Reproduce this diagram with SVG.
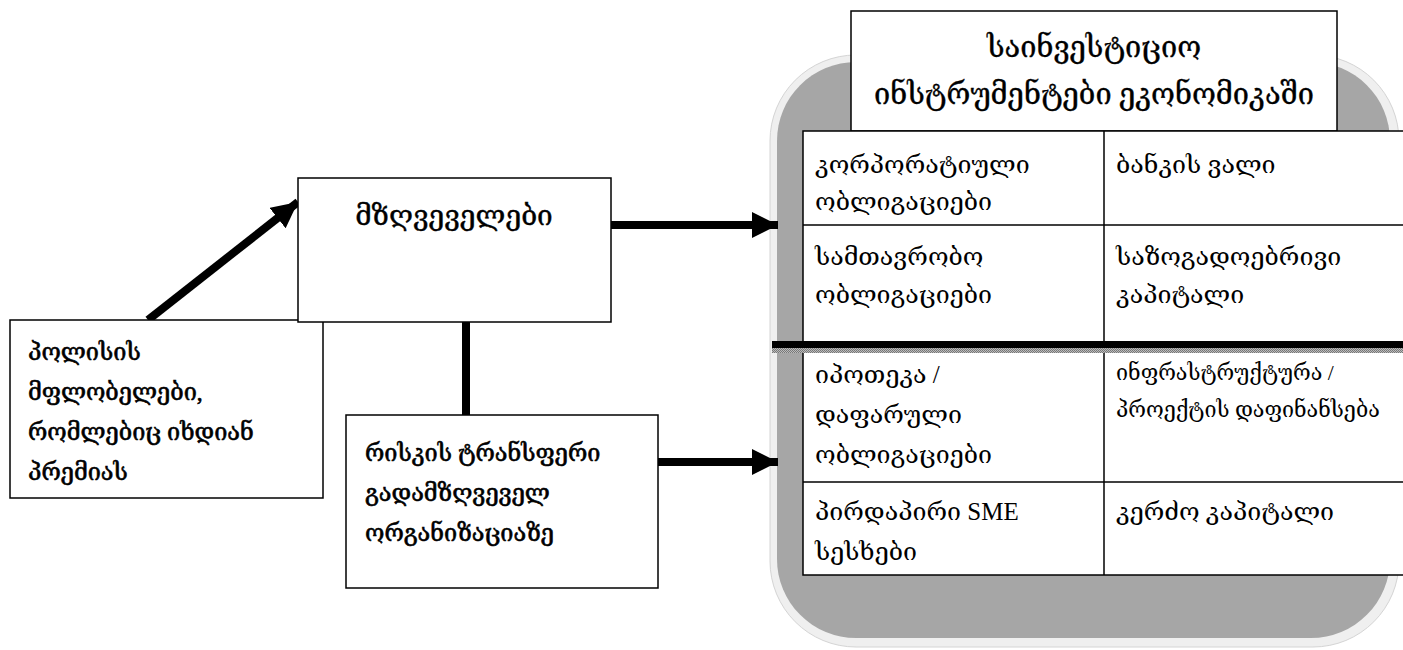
<svg xmlns="http://www.w3.org/2000/svg" width="1403" height="650" viewBox="0 0 1403 650">
<style>
.box{fill:#fff;stroke:#000;stroke-width:1.5}
.t{font-family:"Liberation Serif","DejaVu Serif",serif;font-size:25px;fill:#000}
.s{font-size:21.5px}
.b{stroke:#000;stroke-width:0.6;font-size:23.5px}
.h{stroke:#000;stroke-width:0.35;font-size:29px}
.m{stroke:#000;stroke-width:0.4;font-size:28px}
.conn{stroke:#000;stroke-width:8;fill:none}
</style>
<defs>
<marker id="ah" markerUnits="userSpaceOnUse" markerWidth="26" markerHeight="26" viewBox="0 0 26 26" refX="26" refY="13" orient="auto">
<path d="M0,0 L26,13 L0,26 Z" fill="#000"/>
</marker>
<pattern id="dots" width="2" height="2" patternUnits="userSpaceOnUse">
<rect width="2" height="2" fill="#bbb"/>
<rect width="1" height="1" fill="#777"/>
<rect x="1" y="1" width="1" height="1" fill="#777"/>
</pattern>
</defs>
<rect width="1403" height="650" fill="#fff"/>
<g id="panel">
<rect x="770" y="55" width="629" height="592" rx="86" ry="86" fill="#efefef" stroke="#d4d4d4" stroke-width="1"/>
<rect x="777" y="62" width="613" height="576" rx="79" ry="79" fill="#a6a6a6"/>
</g>
<g id="connectors">
<line class="conn" x1="148" y1="320" x2="298" y2="202" marker-end="url(#ah)"/>
<line class="conn" x1="611" y1="225" x2="778" y2="225" marker-end="url(#ah)"/>
<line class="conn" x1="466" y1="273" x2="466" y2="415"/>
<line class="conn" x1="658" y1="462" x2="778" y2="462" marker-end="url(#ah)"/>
</g>
<g id="node-holders">
<rect class="box" x="10" y="320" width="313" height="178"/>
<text class="t b" x="28" y="360">პოლისის</text>
<text class="t b" x="28" y="400">მფლობელები,</text>
<text class="t b" x="28" y="440">რომლებიც იხდიან</text>
<text class="t b" x="28" y="480">პრემიას</text>
</g>
<g id="node-insurers">
<rect class="box" x="298" y="178" width="313" height="144"/>
<text class="t m" x="454" y="225" text-anchor="middle">მზღვეველები</text>
</g>
<g id="node-risk">
<rect class="box" x="346" y="415" width="312" height="173"/>
<text class="t b" x="365" y="461">რისკის ტრანსფერი</text>
<text class="t b" x="365" y="501">გადამზღვეველ</text>
<text class="t b" x="365" y="541">ორგანიზაციაზე</text>
</g>
<g id="node-title">
<rect class="box" x="851" y="11" width="486" height="120"/>
<text class="t h" x="1094" y="57" text-anchor="middle">საინვესტიციო</text>
<text class="t h" x="1094" y="104" text-anchor="middle">ინსტრუმენტები ეკონომიკაში</text>
</g>
<g id="node-table">
<rect class="box" x="803" y="131" width="620" height="444"/>
<line x1="1104" y1="131" x2="1104" y2="575" stroke="#000" stroke-width="1.5"/>
<line x1="803" y1="225" x2="1403" y2="225" stroke="#000" stroke-width="1.5"/>
<line x1="803" y1="482" x2="1403" y2="482" stroke="#000" stroke-width="1.5"/>
<rect x="772" y="348" width="631" height="5" fill="url(#dots)"/>
<rect x="772" y="341" width="631" height="7" fill="#000"/>
<text class="t" x="815" y="173">კორპორატიული</text>
<text class="t" x="815" y="210">ობლიგაციები</text>
<text class="t" x="1116" y="173">ბანკის ვალი</text>
<text class="t" x="815" y="265">სამთავრობო</text>
<text class="t" x="815" y="303">ობლიგაციები</text>
<text class="t" x="1116" y="265">საზოგადოებრივი</text>
<text class="t" x="1116" y="303">კაპიტალი</text>
<text class="t" x="815" y="383">იპოთეკა /</text>
<text class="t" x="815" y="423">დაფარული</text>
<text class="t" x="815" y="463">ობლიგაციები</text>
<text class="t s" x="1116" y="380">ინფრასტრუქტურა /</text>
<text class="t s" x="1116" y="417">პროექტის დაფინანსება</text>
<text class="t" x="815" y="520">პირდაპირი SME</text>
<text class="t" x="815" y="560">სესხები</text>
<text class="t" x="1116" y="520">კერძო კაპიტალი</text>
</g>
</svg>
